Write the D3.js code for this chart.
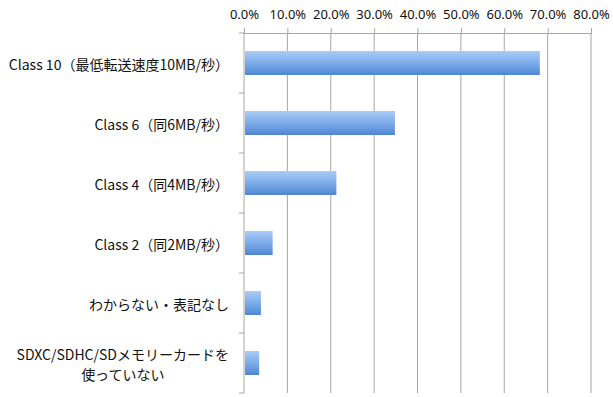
<!DOCTYPE html>
<html>
<head>
<meta charset="utf-8">
<script src="https://cdn.jsdelivr.net/npm/d3@7"></script>
<style>
  body { margin: 0; background: #fff; }
  text { font-family: "Noto Sans CJK JP", "Noto Sans", sans-serif; }
</style>
</head>
<body>
<div id="canvas"></div>
<script>
const categories = [
  ["Class 10（最低転送速度10MB/秒）"],
  ["Class 6（同6MB/秒）"],
  ["Class 4（同4MB/秒）"],
  ["Class 2（同2MB/秒）"],
  ["わからない・表記なし"],
  ["SDXC/SDHC/SDメモリーカードを", "使っていない"]
];
const values = [68.2, 34.8, 21.3, 6.6, 3.9, 3.5];
const ticks = [0, 10, 20, 30, 40, 50, 60, 70, 80];

const width = 613;
const height = 397;
const margin = { top: 33, left: 244, bottom: 4, right: 22 };
const iwidth = width - margin.left - margin.right;
const iheight = height - margin.top - margin.bottom;

const svg = d3.select("#canvas").append("svg")
  .attr("width", width)
  .attr("height", height);

const defs = svg.append("defs");
const grad = defs.append("linearGradient")
  .attr("id", "barGrad")
  .attr("x1", 0).attr("y1", 0).attr("x2", 0).attr("y2", 1);
grad.append("stop").attr("offset", "0%").attr("stop-color", "#a9cbf6");
grad.append("stop").attr("offset", "45%").attr("stop-color", "#82b0ec");
grad.append("stop").attr("offset", "100%").attr("stop-color", "#4f86d2");

const g = svg.append("g").attr("transform", `translate(${margin.left},${margin.top})`);

const x = d3.scaleLinear().domain([0, 80]).range([0, 347]);
const y = d3.scaleBand()
  .domain(d3.range(categories.length))
  .range([0, iheight])
  .paddingInner(0.6)
  .paddingOuter(0.3);

// grid lines
g.append("g")
  .selectAll("line")
  .data(ticks.slice(1))
  .enter().append("line")
  .attr("x1", d => x(d)).attr("x2", d => x(d))
  .attr("y1", 0).attr("y2", iheight)
  .attr("stroke", "#a6a6a6")
  .attr("stroke-width", 1);

// top axis
const xAxis = g.append("g")
  .call(d3.axisTop(x).tickValues(ticks).tickFormat(d => d.toFixed(1) + "%").tickSize(5).tickPadding(9));
xAxis.select(".domain").attr("stroke", "#a6a6a6");
xAxis.selectAll(".tick line").attr("stroke", "#a6a6a6");
xAxis.selectAll("text").attr("font-size", 13).attr("fill", "#111")
  .style("font-family", '"Noto Sans", sans-serif');

// bars
g.append("g")
  .selectAll("rect")
  .data(values)
  .enter().append("rect")
  .attr("x", 1)
  .attr("y", (d, i) => y(i))
  .attr("width", d => x(d) - 1)
  .attr("height", y.bandwidth())
  .attr("fill", "url(#barGrad)");

// left axis
const step = iheight / categories.length;
const yAxis = g.append("g");
yAxis.append("line")
  .attr("x1", 0).attr("x2", 0).attr("y1", 0).attr("y2", iheight)
  .attr("stroke", "#a6a6a6");
yAxis.selectAll("line.tk")
  .data(d3.range(categories.length + 1))
  .enter().append("line")
  .attr("class", "tk")
  .attr("x1", -5).attr("x2", 0)
  .attr("y1", i => i * step).attr("y2", i => i * step)
  .attr("stroke", "#a6a6a6");

// category labels, one text element per line
const lineH = 20;
categories.forEach((lines, i) => {
  const cy = y(i) + y.bandwidth() / 2 + 2;
  const y0 = cy - (lines.length - 1) * lineH / 2;
  const texts = lines.map((s, k) => yAxis.append("text")
    .attr("x", -15)
    .attr("y", y0 + k * lineH)
    .attr("dy", "0.35em")
    .attr("text-anchor", "end")
    .attr("font-size", 14)
    .attr("fill", "#111")
    .text(s));
  if (lines.length > 1) {
    // center the lines under each other
    const w0 = texts[0].node().getComputedTextLength();
    texts.forEach(t => t.attr("text-anchor", "middle").attr("x", -15 - w0 / 2));
  }
});
</script>
</body>
</html>
